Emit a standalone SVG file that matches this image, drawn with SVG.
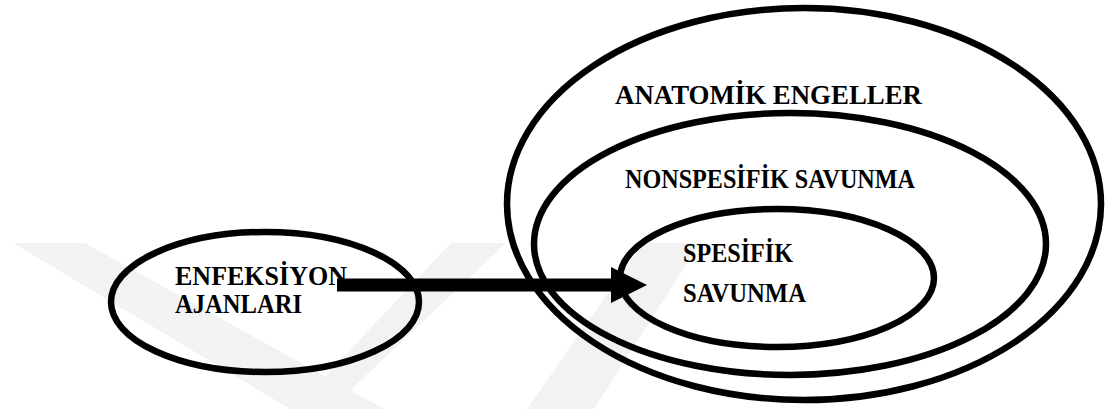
<svg xmlns="http://www.w3.org/2000/svg" width="1108" height="409" viewBox="0 0 1108 409">
  <style>
    .wm { fill: #f2f2f2; stroke: none; }
    .ring { fill: none; stroke: #000; stroke-width: 6.5; }
  </style>
  <rect width="1108" height="409" fill="#fff"/>
  <g id="watermark">
    <polygon class="wm" points="13,243 85,243 384,409 290,409"/>
    <polygon class="wm" points="451,243 506,243 342,398 318,384"/>
    <polygon class="wm" points="643,243 700,243 594,409 527,409"/>
  </g>
  <g font-family="Liberation Serif, Times New Roman, serif" font-weight="bold" font-size="27" fill="#000">
  <g id="anatomik">
    <ellipse class="ring" cx="804" cy="204" rx="297" ry="196"/>
    <text x="615" y="104" textLength="307" lengthAdjust="spacingAndGlyphs">ANATOMİK ENGELLER</text>
  </g>
  <g id="nonspesifik">
    <ellipse class="ring" cx="790" cy="244" rx="256" ry="131"/>
    <text x="625" y="188" textLength="290" lengthAdjust="spacingAndGlyphs">NONSPESİFİK SAVUNMA</text>
  </g>
  <g id="spesifik">
    <ellipse class="ring" cx="777" cy="278" rx="157" ry="69"/>
    <text x="683" y="262" textLength="110" lengthAdjust="spacingAndGlyphs">SPESİFİK</text>
    <text x="683" y="302" textLength="123" lengthAdjust="spacingAndGlyphs">SAVUNMA</text>
  </g>
  <g id="enfeksiyon">
    <ellipse class="ring" cx="265" cy="302" rx="154" ry="70"/>
    <text x="175" y="285" textLength="172" lengthAdjust="spacingAndGlyphs">ENFEKSİYON</text>
    <text x="175" y="313" textLength="127" lengthAdjust="spacingAndGlyphs">AJANLARI</text>
  </g>
  </g>
  <g id="connectors">
    <rect x="337" y="278.5" width="276" height="13" fill="#000"/>
    <polygon points="611,267 647,285 611,303" fill="#000"/>
  </g>
</svg>
